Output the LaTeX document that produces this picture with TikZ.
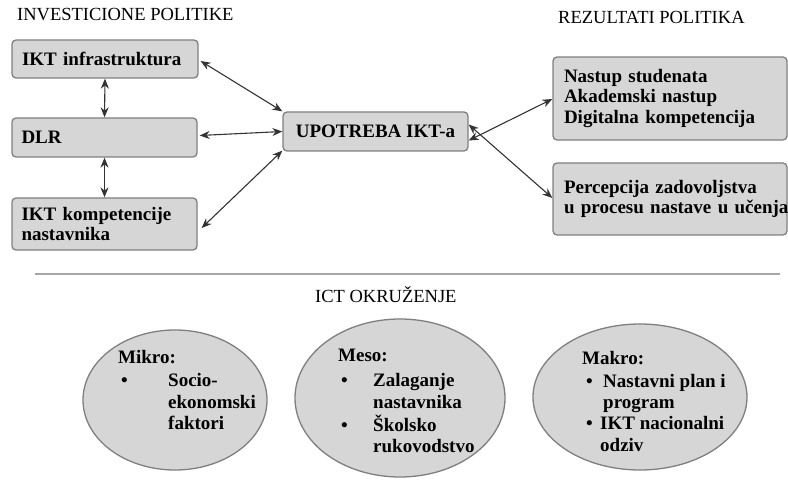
\documentclass[tikz,border=0pt]{standalone}
\usepackage{fontspec}
\setmainfont{Liberation Serif}
\usetikzlibrary{arrows.meta,shapes.geometric}
\definecolor{boxfill}{HTML}{D6D6D6}
\definecolor{boxline}{HTML}{7F7F7F}
\definecolor{arrowc}{HTML}{333333}
\tikzset{
  box/.style={draw=boxline, fill=boxfill, line width=1.3pt, rounded corners=4pt,
    inner sep=0pt, font=\fontsize{19}{20.5}\selectfont\bfseries},
  oval/.style={draw=boxline, fill=boxfill, line width=1.3pt, ellipse, inner sep=0pt},
  otext/.style={anchor=base west, inner sep=0pt, font=\fontsize{19}{20}\selectfont\bfseries},
  heading/.style={anchor=base west, inner sep=0pt, font=\fontsize{18.5}{20}\selectfont},
  link/.style={draw=arrowc, line width=1.1pt, {Stealth[length=10pt,width=8pt]}-{Stealth[length=10pt,width=8pt]}}
}
\begin{document}
\begin{tikzpicture}[x=1pt,y=-1pt]
\useasboundingbox (0,0) rectangle (788,481);

% headings
\node[heading] (hinv) at (17,21) {INVESTICIONE POLITIKE};
\node[heading] (hrez) at (558,24) {REZULTATI POLITIKA};
\node[heading] (hict) at (315,303) {ICT OKRUŽENJE};

% investment boxes
\node[box, minimum width=186pt, minimum height=38pt, text width=166pt, align=left] (infra) at (105,59) {IKT infrastruktura};
\node[box, minimum width=185pt, minimum height=39pt, text width=166pt, align=left] (dlr) at (104.5,137.5) {DLR};
\node[box, minimum width=185pt, minimum height=52pt, text width=166pt, align=left] (komp) at (104.5,224) {IKT kompetencije\\nastavnika};

% central box
\node[box, minimum width=185pt, minimum height=39pt, align=center] (upo) at (375.5,131.5) {UPOTREBA IKT-a};

% result boxes
\node[box, minimum width=234pt, minimum height=83pt, text width=212pt, align=left] (nast) at (670,98.5) {Nastup studenata\\Akademski nastup\\Digitalna kompetencija};
\node[box, minimum width=234pt, minimum height=72pt, text width=212pt, align=left] (perc) at (670,199) {Percepcija zadovoljstva\\\makebox[212pt][l]{u procesu nastave u učenja}};

% connectors
\draw[link] (infra.east) ++(2,2) coordinate (ia) -- (upo.north west);
\draw[link] (dlr.east) ++(2,-2) coordinate (da) -- (upo.west);
\draw[link] (komp.east) ++(4,4) coordinate (ka) -- ([yshift=1pt]upo.south west);
\draw[link] (infra.south) -- (dlr.north);
\draw[link] (dlr.south) -- (komp.north);
\draw[link] ([yshift=-9pt]upo.east) -- ([yshift=-0.5pt]nast.west);
\draw[link] ([yshift=7pt]upo.east) -- ([yshift=1pt]perc.west);

% separator
\draw[draw=gray!70, line width=2pt] (35,274) coordinate (sepl) -- (780,274) coordinate (sepr);

% environment ellipses
\node[oval, minimum width=184pt, minimum height=140pt] (mikro) at (175,400) {};
\node[oval, minimum width=210pt, minimum height=158pt] (meso) at (400,398) {};
\node[oval, minimum width=214pt, minimum height=146pt] (makro) at (640,397) {};

% Mikro text
\node[otext] (mi0) at (118,363) {Mikro:};
\node[otext] (mib) at (121,387) {\textbullet};
\node[otext] (mi1) at (168,387) {Socio-};
\node[otext] (mi2) at (168,408) {ekonomski};
\node[otext] (mi3) at (168,429) {faktori};

% Meso text
\node[otext] (me0) at (338,362) {Meso:};
\node[otext] (meb1) at (341,387) {\textbullet};
\node[otext] (me1) at (373,387) {Zalaganje};
\node[otext] (me2) at (373,408) {nastavnika};
\node[otext] (meb2) at (341,431) {\textbullet};
\node[otext] (me3) at (373,431) {Školsko};
\node[otext] (me4) at (373,452) {rukovodstvo};

% Makro text
\node[otext] (ma0) at (582,364) {Makro:};
\node[otext] (mab1) at (586,388) {\textbullet};
\node[otext] (ma1) at (603,388) {Nastavni plan i};
\node[otext] (ma2) at (603,408) {program};
\node[otext] (mab2) at (586,429) {\textbullet};
\node[otext] (ma3) at (600,429) {IKT nacionalni};
\node[otext] (ma4) at (600,451) {odziv};
\end{tikzpicture}
\end{document}
